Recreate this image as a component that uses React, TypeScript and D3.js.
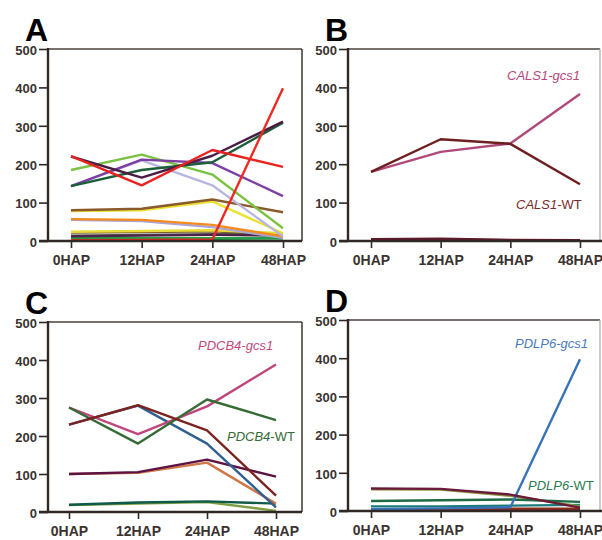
import React, { useEffect, useRef } from 'react';
import * as d3 from 'd3';

// time points and y ticks shared by all four panels
const hours = ['0HAP', '12HAP', '24HAP', '48HAP'];
const yTicks = [0, 100, 200, 300, 400, 500];

// panel A: many genes
const seriesA = [
  [5, 5, 6, 8],
  [7, 7, 7, 7],
  [14, 16, 18, 18],
  [12, 14, 16, 14],
  [22, 23, 25, 18],
  [24, 26, 28, 20],
  [55, 52, 36, 8],
  [57, 55, 42, 12],
  [78, 80, 103, 20],
  [80, 84, 108, 75],
  [143, 210, 145, 12],
  [185, 225, 173, 33],
  [143, 212, 203, 117],
  [143, 185, 205, 308],
  [220, 165, 222, 311],
  [221, 145, 237, 193],
  [2, 3, 4, 398],
];
const colorsA = [
  '#0d5a2e', '#22a046', '#555555', '#4b2248', '#7a5c2e', '#e8dc3a', '#a9a6d8', '#f58a1f',
  '#ece234', '#8a5a2a', '#b8b6e0', '#7cc242', '#7e3fa3', '#1b5e3a', '#4a1d45', '#e8231f', '#ec2a22',
];

// panel B: CALS1
const seriesB = [
  [4, 4, 2, 2],
  [5, 6, 3, 2],
  [180, 232, 254, 383],
  [180, 265, 253, 148],
];
const colorsB = ['#a04070', '#5e1a2a', '#b04a7a', '#6e1f1f'];

// panel C: PDCB4
const seriesC = [
  [18, 22, 26, 3],
  [19, 25, 28, 22],
  [100, 103, 130, 22],
  [100, 105, 138, 93],
  [230, 280, 180, 12],
  [275, 205, 278, 388],
  [275, 180, 296, 242],
  [230, 281, 215, 43],
];
const colorsC = ['#7fa040', '#0e5a48', '#d07848', '#5c1242', '#2f5f90', '#c0457a', '#356b35', '#7a2420'];

// panel D: PDLP6
const seriesD = [
  [3, 3, 3, 5],
  [5, 5, 6, 6],
  [12, 12, 14, 16],
  [57, 56, 40, 12],
  [26, 28, 30, 24],
  [5, 7, 10, 397],
  [59, 58, 43, 9],
];
const colorsD = ['#e07030', '#8a2a1a', '#1a7a78', '#8a9a40', '#1e6b45', '#3a72b8', '#6b1a3a'];

const font = 'Liberation Sans, Arial, sans-serif';
const ink = '#2f2825';

const Panel = (props) => {
  const axisRef = useRef(null);
  const { left, right, top, bottom, x0, x1, series, colors, letter, labels } = props;

  const x = d3.scalePoint().domain(hours).range([x0, x1]);
  const y = d3.scaleLinear().domain([0, 500]).range([bottom, top]);
  const line = d3.line().x((d, i) => x(hours[i])).y(d => y(d));

  useEffect(() => {
    const g = d3.select(axisRef.current);
    g.selectAll('*').remove();
    const ya = g.append('g')
      .attr('transform', 'translate(' + left + ',0)')
      .call(d3.axisLeft(y).tickValues(yTicks).tickSize(9).tickPadding(2));
    const xa = g.append('g')
      .attr('transform', 'translate(0,' + bottom + ')')
      .call(d3.axisBottom(x).tickSize(7).tickPadding(7));
    [ya, xa].forEach(a => {
      a.select('.domain').remove();
      a.selectAll('line').attr('stroke', ink).attr('stroke-width', 1.6);
      a.selectAll('text')
        .attr('fill', '#3a3330')
        .attr('font-family', font)
        .attr('font-weight', 'bold');
    });
    ya.selectAll('text').attr('font-size', 13).attr('dy', '0.4em');
    xa.selectAll('text').attr('font-size', 14);
  });

  return (
    <g>
      <text x={left - 23} y={top - 8} fontFamily={font} fontWeight="bold" fontSize={32} fill="#000">{letter}</text>
      <line x1={left} x2={right} y1={top} y2={top} stroke="#4a403c" strokeWidth={1.6} />
      <line x1={right} x2={right} y1={top} y2={bottom} stroke={props.edge} strokeWidth={1.4} />
      {series.map((s, i) => (
        <path key={i} d={line(s)} fill="none" stroke={colors[i]} strokeWidth={2.4} strokeLinejoin="round" />
      ))}
      <line x1={left} x2={left} y1={top - 1} y2={bottom + 1} stroke={ink} strokeWidth={2.4} />
      <line x1={left - 9} x2={props.axisEnd} y1={bottom} y2={bottom} stroke={ink} strokeWidth={2.4} />
      <g ref={axisRef} />
      {labels.map((l, i) => (
        <text key={i} x={l.x} y={l.y} fontFamily={font} fontSize={13} fill={l.color}>
          <tspan fontStyle="italic">{l.gene}</tspan>
          <tspan fontStyle={l.suffix === '-WT' ? 'normal' : 'italic'}>{l.suffix}</tspan>
        </text>
      ))}
    </g>
  );
};

const App = () => {
  return (
    <svg width={602} height={540} style={{ position: 'absolute', left: 0, top: 0, background: '#fff' }}>
      <Panel letter="A" left={48} right={302} top={49} bottom={241} x0={71} x1={283} axisEnd={302}
        edge={ink} series={seriesA} colors={colorsA} labels={[]} />
      <Panel letter="B" left={348} right={600} top={49} bottom={241} x0={371} x1={580} axisEnd={602}
        edge="#b8b4b0" series={seriesB} colors={colorsB}
        labels={[
          { x: 507, y: 80, gene: 'CALS1', suffix: '-gcs1', color: '#b5487a' },
          { x: 516, y: 209, gene: 'CALS1', suffix: '-WT', color: '#7a2a2a' },
        ]} />
      <Panel letter="C" left={48} right={302} top={322} bottom={512} x0={69} x1={276} axisEnd={302}
        edge={ink} series={seriesC} colors={colorsC}
        labels={[
          { x: 198, y: 350, gene: 'PDCB4', suffix: '-gcs1', color: '#c04a80' },
          { x: 227, y: 441, gene: 'PDCB4', suffix: '-WT', color: '#356b35' },
        ]} />
      <Panel letter="D" left={348} right={600} top={320} bottom={511} x0={371} x1={580} axisEnd={602}
        edge="#b8b4b0" series={seriesD} colors={colorsD}
        labels={[
          { x: 515, y: 348, gene: 'PDLP6', suffix: '-gcs1', color: '#4a7ac0' },
          { x: 528, y: 490, gene: 'PDLP6', suffix: '-WT', color: '#2e7a50' },
        ]} />
    </svg>
  );
};

export default App;
